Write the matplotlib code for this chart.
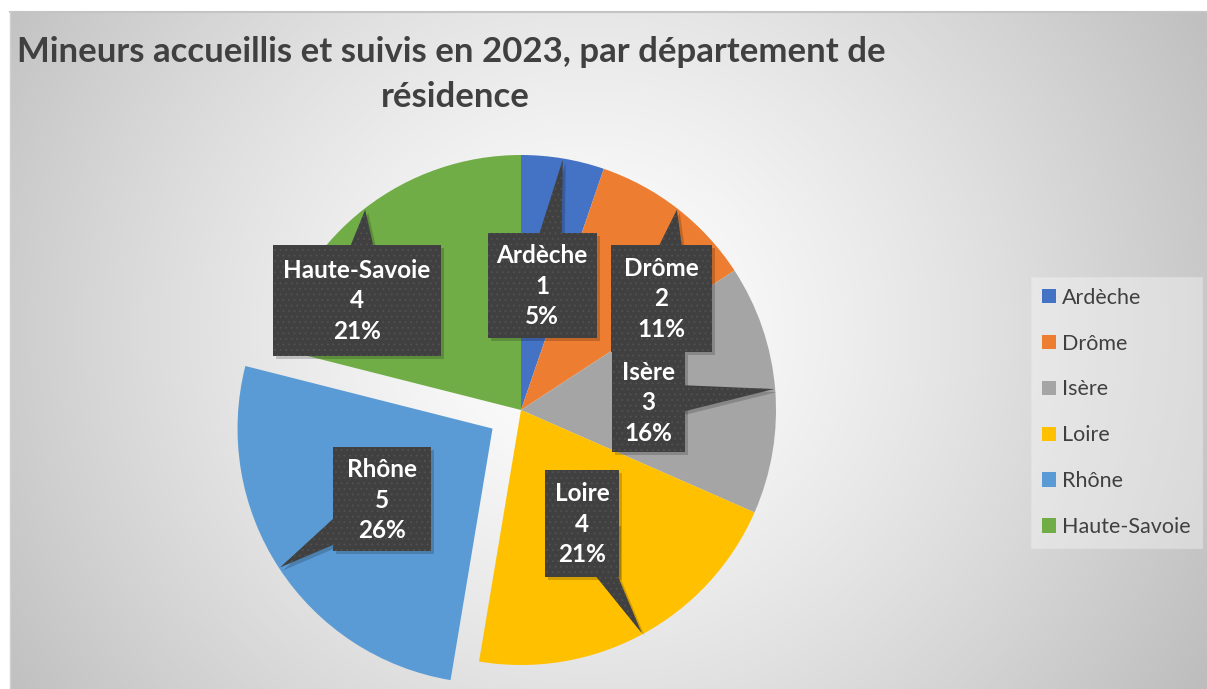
import numpy as np
import matplotlib
matplotlib.use("Agg")
import matplotlib.pyplot as plt
from matplotlib.patches import Polygon, Rectangle

plt.rcParams['font.family'] = ['Lato', 'DejaVu Sans']
plt.rcParams['hatch.color'] = '#505050'
plt.rcParams['hatch.linewidth'] = 0.7

# data
departements = ['Ardèche', 'Drôme', 'Isère', 'Loire', 'Rhône', 'Haute-Savoie']
mineurs = [1, 2, 3, 4, 5, 4]
couleurs = ['#4472C4', '#ED7D31', '#A5A5A5', '#FFC000', '#5B9BD5', '#70AD47']
eclate = [0, 0, 0, 0, 34, 0]

# label boxes: (centre x, centre y, width, height) in screen pixels (y down)
boites = [(542, 285, 109, 105), (661, 298, 101, 107), (648, 402, 73, 100),
          (582, 523, 74, 107), (382, 499, 98, 104), (357, 300, 168, 111)]

W, H = 1207, 689
fig = plt.figure(figsize=(W / 100, H / 100), dpi=100)
ax = fig.add_axes([0, 0, 1, 1])
ax.set_xlim(0, W)
ax.set_ylim(0, H)
ax.axis('off')

# background radial gradient
x0, y0 = 10, 12
yy, xx = np.mgrid[y0:H, x0:W]
d = np.hypot(xx - 590, (yy - 330) * 1.05)
v = 1 - 0.26 * np.clip(d / 720, 0, 1) ** 1.3
img = np.dstack([v, v, v])
ax.imshow(img, extent=(x0, W, 0, H - y0), origin='upper', zorder=0, aspect='auto')
ax.plot([x0, W], [H - y0, H - y0], color='#c4c4c4', lw=1.5, zorder=1)
ax.plot([x0, x0], [0, H - y0], color='#d0d0d0', lw=1, zorder=1)

R = 255
cx, cy = 521, H - 410
wedges, _ = ax.pie(mineurs, colors=couleurs, startangle=90, counterclock=False,
                   radius=R, center=(cx, cy), explode=eclate,
                   wedgeprops=dict(linewidth=0, zorder=2))
ax.set_xlim(0, W)
ax.set_ylim(0, H)
ax.set_aspect('auto')

total = sum(mineurs)
for w, nom, n, (bx, by, bw, bh) in zip(wedges, departements, mineurs, boites):
    mid = np.deg2rad((w.theta1 + w.theta2) / 2)
    tx = w.center[0] + w.r * 0.995 * np.cos(mid)
    ty = w.center[1] + w.r * 0.995 * np.sin(mid)
    by = H - by
    # pointer base on the box edge toward the tip
    dx, dy = tx - bx, ty - by
    sx = (bw / 2) / abs(dx) if dx else np.inf
    sy = (bh / 2) / abs(dy) if dy else np.inf
    if sx < sy:
        ex = bx + np.sign(dx) * bw / 2
        ey = by + dy * sx
        ey = np.clip(ey, by - bh / 2 + 12, by + bh / 2 - 12)
        base = [(ex, ey - 13), (ex, ey + 13)]
        inner = [(bx, ey + 13), (bx, ey - 13)]
    else:
        ey = by + np.sign(dy) * bh / 2
        ex = bx + dx * sy
        ex = np.clip(ex, bx - bw / 2 + 12, bx + bw / 2 - 12)
        base = [(ex - 11, ey), (ex + 11, ey)]
        inner = [(ex + 11, by), (ex - 11, by)]
    poly = [base[0], (tx, ty), base[1]] + inner
    ax.add_patch(Polygon([(px + 3, py - 3) for px, py in poly], closed=True,
                         facecolor='black', alpha=0.18, zorder=3))
    ax.add_patch(Rectangle((bx - bw / 2 + 3, by - bh / 2 - 3), bw, bh,
                           facecolor='black', alpha=0.18, zorder=3))
    ax.add_patch(Polygon(poly, closed=True, facecolor='#404040', hatch='...', zorder=4))
    ax.add_patch(Rectangle((bx - bw / 2, by - bh / 2), bw, bh,
                           facecolor='#404040', hatch='...', zorder=4))
    pct = round(100 * n / total)
    ax.text(bx, by - 1, f'{nom}\n{n}\n{pct}%', ha='center', va='center', color='white',
            fontsize=17.5, fontweight='bold', linespacing=1.42, zorder=5)

fig.text(451 / W, 1 - 52 / H, 'Mineurs accueillis et suivis en 2023, par département de',
         ha='center', va='center', fontsize=25, fontweight='bold', color='#404040')
fig.text(455 / W, 1 - 97 / H, 'résidence',
         ha='center', va='center', fontsize=25, fontweight='bold', color='#404040')

leg = ax.legend(wedges, departements, loc='upper left',
                bbox_to_anchor=(1031 / W, 1 - 277 / H), bbox_transform=fig.transFigure,
                borderaxespad=0, frameon=True, fontsize=15.5, labelcolor='#404040',
                handlelength=0.65, handleheight=0.65, handletextpad=0.3,
                labelspacing=1.2, borderpad=0.5, fancybox=False)
leg.get_frame().set_facecolor('white')
leg.get_frame().set_alpha(0.35)
leg.get_frame().set_edgecolor('#e6e6e6')
leg.set_zorder(6)

fig.savefig('out.png', dpi=100, facecolor='white')
